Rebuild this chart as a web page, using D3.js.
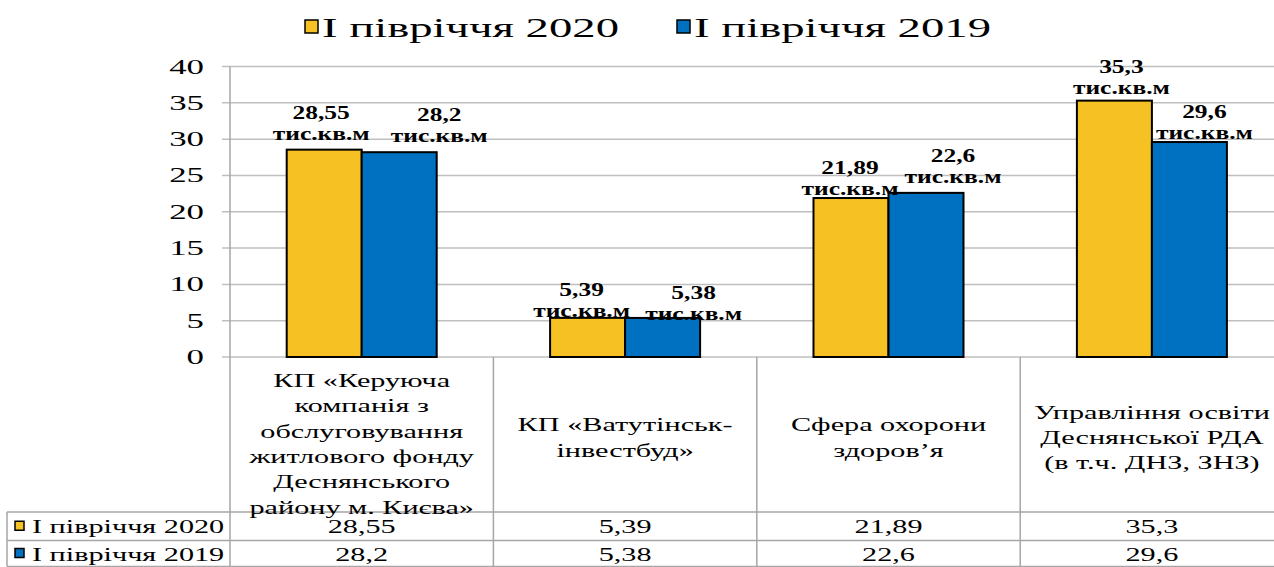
<!DOCTYPE html>
<html>
<head>
<meta charset="utf-8">
<script src="https://cdn.jsdelivr.net/npm/d3@7"></script>
<style>
  html, body { margin: 0; padding: 0; background: #fff; }
  svg { display: block; }
</style>
</head>
<body>
<svg id="chart" width="1274" height="567"></svg>
<script>
// ---------- data ----------
const categories = [
  ["КП «Керуюча", "компанія з", "обслуговування", "житлового фонду", "Деснянського", "району м. Києва»"],
  ["КП «Ватутінськ-", "інвестбуд»"],
  ["Сфера охорони", "здоров’я"],
  ["Управління освіти", "Деснянської РДА", "(в т.ч. ДНЗ, ЗНЗ)"]
];
const seriesNames = ["І півріччя 2020", "І півріччя 2019"];
const values2020 = [28.55, 5.39, 21.89, 35.3];
const values2019 = [28.2, 5.38, 22.6, 29.6];
const yTicks = [0, 5, 10, 15, 20, 25, 30, 35, 40];
const unitLabel = "тис.кв.м";

// ---------- layout / style ----------
const W = 1274, H = 567;
const plot = { left: 230, right: 1283.6, top: 66.5, bottom: 357 };
const tableRows = { catBottom: 512, row1Bottom: 540.5, row2Bottom: 566.5, left: 7 };
const colors = ["#F6C122", "#0070C0"];
const gridColor = "#BFBFBF";
const axisColor = "#A6A6A6";
const FONT = "Liberation Serif";
// label nudges (dx from bar centre, gap of 2nd line baseline above bar top)
const labelNudge = [
  { dx: [-3, -6, -1, 7], gap: [10, 1, 3, 7] },
  { dx: [40, 31, 27, 15], gap: [10, -2, 10, 3] }
];
const sxLegend = 1.73, sxTick = 1.7, sxCat = 1.55, sxTable = 1.55, sxLabel = 1.34;

const fmt = v => String(v).replace(".", ",");
const series = [values2020, values2019];

const svg = d3.select("#chart");

function stext(g, x, y, str, opts) {
  return g.append("text")
    .attr("transform", `translate(${x},${y}) scale(${opts.sx},1)`)
    .attr("text-anchor", opts.anchor || "start")
    .attr("font-family", FONT)
    .attr("font-size", opts.size)
    .attr("font-weight", opts.bold ? "bold" : "normal")
    .attr("fill", "#000")
    .text(str);
}

// scales
const x0 = d3.scaleBand().domain(d3.range(categories.length))
  .range([plot.left, plot.right]).paddingInner(0).paddingOuter(0);
const x1 = d3.scaleBand().domain(d3.range(series.length))
  .range([0, x0.bandwidth()]).paddingInner(0).paddingOuter(0.756);
const y = d3.scaleLinear().domain([0, 40]).range([plot.bottom, plot.top]);

// gridlines
const gGrid = svg.append("g");
gGrid.selectAll("line").data(yTicks).join("line")
  .attr("x1", plot.left - 8).attr("x2", W)
  .attr("y1", d => y(d)).attr("y2", d => y(d))
  .attr("stroke", gridColor).attr("stroke-width", 1.5);

// y axis line (continues down through category table)
svg.append("line")
  .attr("x1", plot.left).attr("x2", plot.left)
  .attr("y1", plot.top).attr("y2", tableRows.row2Bottom)
  .attr("stroke", axisColor).attr("stroke-width", 1.5);

// tick labels
const gTicks = svg.append("g");
yTicks.forEach(t => {
  stext(gTicks, 204, y(t) + 7, String(t), { sx: sxTick, size: 20.5, anchor: "end" });
});

// table grid
const gTable = svg.append("g");
x0.domain().slice(1).forEach(i => {
  gTable.append("line")
    .attr("x1", x0(i)).attr("x2", x0(i))
    .attr("y1", plot.bottom).attr("y2", tableRows.row2Bottom)
    .attr("stroke", axisColor).attr("stroke-width", 1.5);
});
[tableRows.catBottom, tableRows.row1Bottom, tableRows.row2Bottom].forEach(yy => {
  gTable.append("line")
    .attr("x1", tableRows.left).attr("x2", W)
    .attr("y1", yy).attr("y2", yy)
    .attr("stroke", axisColor).attr("stroke-width", 1.5);
});
gTable.append("line")
  .attr("x1", tableRows.left).attr("x2", tableRows.left)
  .attr("y1", tableRows.catBottom).attr("y2", tableRows.row2Bottom)
  .attr("stroke", axisColor).attr("stroke-width", 1.5);

// bars
const gBars = svg.append("g");
series.forEach((vals, s) => {
  gBars.selectAll(null).data(vals).join("rect")
    .attr("x", (d, i) => x0(i) + x1(s))
    .attr("y", d => y(d))
    .attr("width", x1.bandwidth())
    .attr("height", d => y(0) - y(d))
    .attr("fill", colors[s])
    .attr("stroke", "#000").attr("stroke-width", 2);
});

// data labels
const gLabels = svg.append("g");
series.forEach((vals, s) => {
  vals.forEach((v, i) => {
    const cx = x0(i) + x1(s) + x1.bandwidth() / 2 + labelNudge[s].dx[i];
    const base2 = y(v) - labelNudge[s].gap[i];
    stext(gLabels, cx, base2 - 21, fmt(v), { sx: sxLabel, size: 19, anchor: "middle", bold: true });
    stext(gLabels, cx, base2, unitLabel, { sx: sxLabel, size: 19, anchor: "middle", bold: true });
  });
});

// category labels
const gCats = svg.append("g");
const lineH = 25.3;
categories.forEach((lines, i) => {
  const cx = x0(i) + x0.bandwidth() / 2;
  let firstCenter = 437 - (lines.length - 1) * lineH / 2;
  firstCenter = Math.max(firstCenter, 380);
  lines.forEach((ln, k) => {
    stext(gCats, cx, firstCenter + k * lineH + 7, ln, { sx: sxCat, size: 19.5, anchor: "middle" });
  });
});

// table values + keys
const rowCenters = [(tableRows.catBottom + tableRows.row1Bottom) / 2, (tableRows.row1Bottom + tableRows.row2Bottom) / 2];
series.forEach((vals, s) => {
  const cy = rowCenters[s];
  gTable.append("rect")
    .attr("x", 15).attr("y", cy - 5).attr("width", 9).attr("height", 9)
    .attr("fill", colors[s]).attr("stroke", "#000").attr("stroke-width", 1.5);
  stext(gTable, 32, cy + 7, seriesNames[s], { sx: sxTable, size: 19.5, anchor: "start" });
  vals.forEach((v, i) => {
    stext(gTable, x0(i) + x0.bandwidth() / 2, cy + 7, fmt(v), { sx: sxTable, size: 19.5, anchor: "middle" });
  });
});

// top legend
const gLeg = svg.append("g");
const legX = [305, 677];
seriesNames.forEach((nm, s) => {
  gLeg.append("rect")
    .attr("x", legX[s]).attr("y", 20).attr("width", 13).attr("height", 13)
    .attr("fill", colors[s]).attr("stroke", "#000").attr("stroke-width", 1.5);
  stext(gLeg, legX[s] + 17, 37, nm, { sx: sxLegend, size: 27, anchor: "start" });
});
</script>
</body>
</html>
